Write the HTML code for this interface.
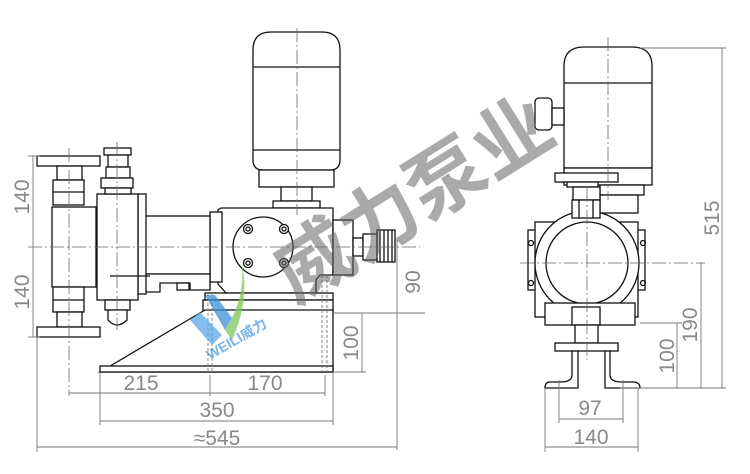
<!DOCTYPE html>
<html><head><meta charset="utf-8"><style>
html,body{margin:0;padding:0;background:#fff;width:750px;height:474px;overflow:hidden}
svg{display:block}
.o{fill:#fff;stroke:#111;stroke-width:1.3}
.l{stroke:#111;stroke-width:1.3;fill:none}
.d{stroke:#777;stroke-width:0.9;fill:none}
.c{stroke:#666;stroke-width:0.8;fill:none;stroke-dasharray:14 3 2 3}
.t{font-family:"Liberation Sans",sans-serif;font-size:21px;fill:#888;text-anchor:middle}
</style></head><body>
<svg width="750" height="474" viewBox="0 0 750 474" xmlns="http://www.w3.org/2000/svg">
<path class="o" d="M253,50 Q253,32 271,32 L322,32 Q340,32 340,50 L340,160 Q340,170 330,170 L263,170 Q253,170 253,160 Z"/>
<line class="l" x1="253" y1="67" x2="340" y2="67"/>
<line class="l" x1="253" y1="150" x2="340" y2="150"/>
<rect class="o" x="259" y="170" width="75" height="17"/>
<rect class="o" x="281" y="187" width="31" height="14"/>
<rect class="o" x="273" y="201" width="47" height="7"/>
<path class="o" d="M221,208 L333,208 L333,275 L320,275 L316,280 L316,293 L226,293 L218,284 L218,210 Z"/>
<circle class="o" cx="263" cy="247" r="30"/>
<g class="o"><circle cx="248" cy="229" r="4.5"/><circle cx="284" cy="229" r="4.5"/><circle cx="248" cy="263" r="4.5"/><circle cx="284" cy="263" r="4.5"/></g>
<g class="l"><circle cx="248" cy="229" r="2"/><circle cx="284" cy="229" r="2"/><circle cx="248" cy="263" r="2"/><circle cx="284" cy="263" r="2"/></g>
<rect class="o" x="333" y="220" width="20" height="55"/>
<rect class="o" x="353" y="238" width="10" height="18"/>
<rect class="o" x="363" y="234" width="14" height="26"/>
<rect class="o" x="377" y="230" width="18" height="32"/>
<g class="l" stroke-width="0.8"><line x1="380" y1="230" x2="380" y2="262"/><line x1="384" y1="230" x2="384" y2="262"/><line x1="388" y1="230" x2="388" y2="262"/><line x1="392" y1="230" x2="392" y2="262"/></g>
<rect class="o" x="210" y="212" width="12" height="70"/>
<rect class="o" x="138" y="216" width="72" height="58"/>
<path class="o" d="M145,274 L210,274 L210,290 L190,290 L190,283 L160,283 L160,292 L145,292 Z"/>
<rect class="o" x="177" y="283" width="12" height="7"/>
<rect class="o" x="138" y="194" width="8" height="100"/>
<rect class="o" x="97" y="194" width="41" height="106"/>
<line class="l" x1="110" y1="276" x2="150" y2="276"/>
<rect class="o" x="104" y="148" width="27" height="7"/>
<rect class="o" x="108" y="155" width="20" height="12"/>
<rect class="o" x="106" y="167" width="24" height="11"/>
<rect class="o" x="101" y="178" width="32" height="10"/>
<rect class="o" x="105" y="188" width="26" height="6"/>
<rect class="o" x="105" y="300" width="25" height="10"/>
<path class="o" d="M108,310 L127,310 L127,320 Q117,330 108,320 Z"/>
<rect class="o" x="37" y="156" width="63" height="10"/>
<rect class="o" x="57" y="166" width="25" height="14"/>
<rect class="o" x="53" y="180" width="31" height="25"/>
<line class="l" x1="53" y1="192" x2="84" y2="192"/>
<rect class="o" x="52" y="207" width="44" height="80"/>
<rect class="o" x="53" y="287" width="31" height="25"/>
<line class="l" x1="53" y1="300" x2="84" y2="300"/>
<rect class="o" x="57" y="312" width="25" height="15"/>
<rect class="o" x="37" y="327" width="63" height="10"/>
<rect class="o" x="205" y="293" width="128" height="7"/>
<rect class="o" x="203" y="300" width="130" height="13"/>
<path class="o" d="M100,372 L205,310 L333,310 L333,372 Z"/>
<rect class="o" x="100" y="366" width="233" height="6"/>
<g class="d" stroke-dasharray="3 2"><line x1="208" y1="293" x2="208" y2="372"/><line x1="212" y1="293" x2="212" y2="372"/><line x1="322" y1="275" x2="322" y2="372"/><line x1="327" y1="275" x2="327" y2="372"/></g>
<line class="c" x1="28" y1="247" x2="420" y2="247"/>
<line class="c" x1="297" y1="28" x2="297" y2="215"/>
<line class="c" x1="69" y1="148" x2="69" y2="396"/>
<line class="c" x1="117" y1="142" x2="117" y2="330"/>
<g class="d">
<line x1="33" y1="156" x2="33" y2="337"/>
<line x1="28" y1="156" x2="40" y2="156"/><line x1="28" y1="337" x2="40" y2="337"/>
<line x1="37" y1="337" x2="37" y2="452"/>
<line x1="100" y1="372" x2="100" y2="425"/>
<line x1="333" y1="372" x2="333" y2="425"/>
<line x1="397" y1="240" x2="397" y2="450"/>
<line x1="333" y1="313" x2="425" y2="313"/>
<line x1="333" y1="372" x2="366" y2="372"/>
<line x1="362" y1="313" x2="362" y2="372"/>
<line x1="69" y1="393" x2="325" y2="393"/>
<line x1="100" y1="421" x2="333" y2="421"/>
<line x1="37" y1="447" x2="397" y2="447"/>
<line x1="210" y1="375" x2="210" y2="396"/>
<line x1="325" y1="375" x2="325" y2="396"/>
</g>
<text class="t" transform="translate(29,197) rotate(-90)">140</text>
<text class="t" transform="translate(29,292) rotate(-90)">140</text>
<text class="t" transform="translate(420,282) rotate(-90)">90</text>
<text class="t" transform="translate(358,343) rotate(-90)">100</text>
<text class="t" x="141" y="390">215</text>
<text class="t" x="265" y="390">170</text>
<text class="t" x="217" y="417">350</text>
<text class="t" x="217" y="445">≈545</text>
<path class="o" d="M564,66 Q564,47 584,47 L632,47 Q652,47 652,66 L652,168 L564,168 Z"/>
<line class="l" x1="564" y1="83" x2="652" y2="83"/>
<rect class="o" x="564" y="168" width="88" height="17"/>
<rect class="o" x="535" y="98" width="17" height="32" rx="4"/>
<rect class="o" x="552" y="108" width="12" height="17"/>
<rect class="o" x="600" y="185" width="44" height="10"/>
<rect class="o" x="600" y="195" width="38" height="18"/>
<rect class="o" x="555" y="173" width="63" height="9"/>
<rect class="o" x="567" y="182" width="31" height="5"/>
<rect class="o" x="573" y="187" width="27" height="13"/>
<rect class="o" x="528" y="230" width="117" height="60"/>
<rect class="o" x="535" y="222" width="103" height="95"/>
<circle class="o" cx="587" cy="263" r="52"/>
<circle class="o" cx="587" cy="263" r="41"/>
<rect class="o" x="545" y="303" width="90" height="22"/>
<rect class="o" x="572" y="200" width="28" height="18"/>
<line class="l" x1="579" y1="200" x2="579" y2="218"/><line x1="593" y1="200" x2="593" y2="218" class="l"/>
<rect class="o" x="572" y="307" width="28" height="18"/>
<rect class="o" x="575" y="325" width="23" height="18"/>
<rect class="o" x="555" y="343" width="63" height="8"/>
<path class="o" d="M572,351 L572,375 Q572,382 560,382 L550,382 Q545,382 545,388 L578,388 L578,351 Z"/>
<path class="o" d="M610,351 L610,375 Q610,382 622,382 L633,382 Q640,382 640,388 L605,388 L605,351 Z"/>
<g class="l"><circle cx="531" cy="243" r="2.5"/><circle cx="531" cy="283" r="2.5"/><circle cx="643" cy="243" r="2.5"/><circle cx="643" cy="283" r="2.5"/></g>
<line class="c" x1="520" y1="263" x2="705" y2="263"/>
<line class="c" x1="587" y1="188" x2="587" y2="360"/>
<line class="c" x1="608" y1="37" x2="608" y2="200"/>
<g class="d">
<line x1="640" y1="48" x2="726" y2="48"/>
<line x1="620" y1="388" x2="726" y2="388"/>
<line x1="722" y1="48" x2="722" y2="388"/>
<line x1="701" y1="263" x2="701" y2="388"/>
<line x1="640" y1="323" x2="682" y2="323"/>
<line x1="677" y1="323" x2="677" y2="388"/>
<line x1="545" y1="388" x2="545" y2="452"/>
<line x1="638" y1="388" x2="638" y2="452"/>
<line x1="559" y1="380" x2="559" y2="423"/>
<line x1="623" y1="380" x2="623" y2="423"/>
<line x1="559" y1="419" x2="623" y2="419"/>
<line x1="545" y1="447" x2="638" y2="447"/>
</g>
<text class="t" transform="translate(719,218) rotate(-90)">515</text>
<text class="t" transform="translate(697,325) rotate(-90)">190</text>
<text class="t" transform="translate(674,356) rotate(-90)">100</text>
<text class="t" x="590" y="415">97</text>
<text class="t" x="591" y="444">140</text>
<g transform="translate(295,305) rotate(-32)" opacity="0.55">
<text x="0" y="0" font-family="'Liberation Sans','Noto Sans CJK SC',sans-serif" font-size="78" font-weight="bold" fill="#666">威力泵业</text>
</g>
<g opacity="0.75">
<path d="M205,295 L225,330 L232,318 L215,295 Z" fill="#3a8fd8"/>
<path d="M190,320 L212,345 L222,335 L200,312 Z" fill="#5aa8e8"/>
<path d="M225,330 Q245,300 242,265 Q250,300 232,340 Z" fill="#7cc85a"/>
<text x="0" y="0" transform="translate(210,360) rotate(-30)" font-family="'Liberation Sans','Noto Sans CJK SC',sans-serif" font-size="14" font-weight="bold" fill="#4a9be0">WEILI威力</text>
</g>
</svg>
</body></html>
